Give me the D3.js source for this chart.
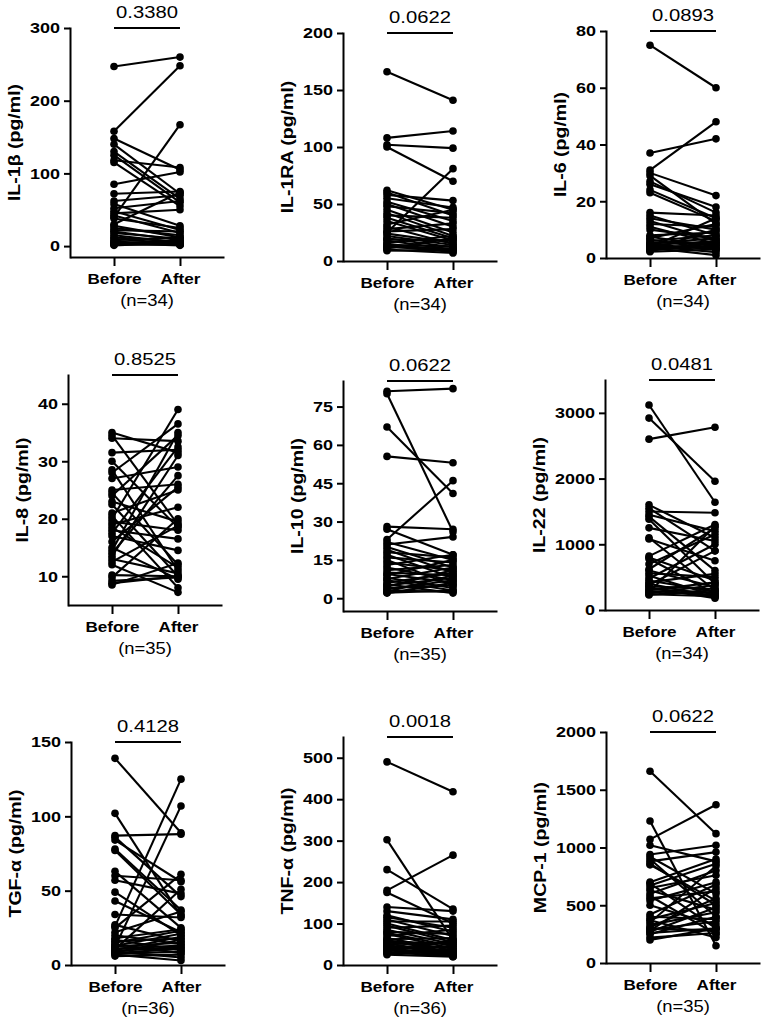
<!DOCTYPE html>
<html>
<head>
<meta charset="utf-8">
<script src="https://cdn.jsdelivr.net/npm/d3@7"></script>
<style>
  html, body { margin: 0; background: #fff; }
  svg text { font-family: "Liberation Sans", Arial, sans-serif; fill: #000; }
  .ax path, .ax line { stroke: #000; stroke-width: 2px; }
</style>
</head>
<body>
<svg id="fig" width="767" height="1023"></svg>
<script>
// ─── data ─────────────────────────────────────────────────────────────────────
const groups  = ['Before', 'After'];
const titles  = ['IL-1β (pg/ml)', 'IL-1RA (pg/ml)', 'IL-6 (pg/ml)',
                 'IL-8 (pg/ml)', 'IL-10 (pg/ml)', 'IL-22 (pg/ml)',
                 'TGF-α (pg/ml)', 'TNF-α (pg/ml)', 'MCP-1 (pg/ml)'];
const pValues = ['0.3380', '0.0622', '0.0893', '0.8525', '0.0622', '0.0481', '0.4128', '0.0018', '0.0622'];
const nCounts = [34, 34, 34, 35, 35, 34, 36, 36, 35];

const yDomains = [[-15, 300], [0, 200], [0, 80], [5, 45], [-5, 85], [0, 3500], [0, 150], [0, 550], [0, 2000]];
const yTicks = [
  [0, 100, 200, 300],
  [0, 50, 100, 150, 200],
  [0, 20, 40, 60, 80],
  [10, 20, 30, 40],
  [0, 15, 30, 45, 60, 75],
  [0, 1000, 2000, 3000],
  [0, 50, 100, 150],
  [0, 100, 200, 300, 400, 500],
  [0, 500, 1000, 1500, 2000]
];

const il1bBefore = [247,158,148,140,130,125,118,115,85,72,62,58,52,48,45,42,40,38,30,28,25,22,20,18,15,12,10,8,6,5,4,3,2,1];
const il1bAfter  = [260,248,105,72,65,60,108,55,102,75,70,28,62,22,50,18,167,25,74,12,15,20,8,10,5,6,3,12,4,2,1,8,2,5];

const il1raBefore = [166,108,102,100,62,60,58,55,52,50,48,45,42,40,38,35,32,30,28,26,25,24,22,20,19,18,16,15,14,13,12,11,10,9];
const il1raAfter  = [141,114,99,70,45,40,53,47,35,30,42,25,22,38,20,18,45,15,33,28,81,16,14,12,18,10,22,9,13,8,11,20,7,10];

const il6Before = [75,37,31,30,29,27,26,24,23,16,15,14,13,12,11,10,8,7.5,7,6.5,6,5.5,5,4.8,4.5,4.2,4,3.8,3.5,3.2,3,2.8,2.5,2.2];
const il6After  = [60,42,48,22,12,16,18,14,13,15,8,10,6,11,5,7,9,4,12,3,8,5,7,3,6,2,4,14,1,5,10,4,6,3];

const il8Before = [35,34.5,34,31.5,30,28.5,28,27,25,24.5,24,23,22.5,21,20.5,20,19.5,19,18.5,18,17.5,17,16,15,14.5,14,13.5,13,12.5,12,10.2,9.8,9.2,8.8,8.5];
const il8After  = [31.5,19,33.5,32,18.5,11,36.5,29,26,12,34.5,19.5,10,25,8,39,18,22,11.5,16.5,32.5,14.5,25.5,9.5,35,27.5,31,10.5,18.8,7.2,10,20,9.8,10,12.3];

const il10Before = [81,80,67,55.5,28,27,23,22,21,20,19,18,17,16,15,14,13,12,11,10,9.5,9,8,7.5,7,6,5.5,5,4.5,4,3.5,3,2.5,2.2,2];
const il10After  = [82,26,41,53,27,17,46,15,24,12,10,16,8,14,5,11,17,7,13,9,6,15,4,12,3,10,2,8,11,5,7,2.5,9,3,6];

const il22Before = [3120,2920,2600,1600,1550,1500,1450,1420,1380,1250,1100,1080,820,800,780,700,620,600,560,520,480,450,420,400,380,360,340,320,300,290,270,250,240,230];
const il22After  = [1640,1960,2780,1100,900,1480,1200,600,400,1050,300,750,1300,450,250,1150,1250,350,500,220,1000,280,550,200,900,320,180,260,420,230,1280,380,210,300];

const tgfBefore = [139,102,87,86,84,78,77,63,60,57,49,43,34,27,26,25,22,20,18,17,16,15,14,13,12.5,12,11,10.5,10,9.5,9,8.5,8,7.5,7,6];
const tgfAfter  = [89,33,88,46,56,37,34,25,57,48,20,22,32,16,125,61,36,14,24,10,18,23,8,21,15,107,13,51,19,12,5,17,11,9,3,7];

const tnfBefore = [490,302,230,180,175,140,130,120,115,110,105,100,95,90,85,80,78,75,70,65,62,60,58,55,52,50,48,45,42,40,38,35,32,30,28,25];
const tnfAfter  = [418,60,135,265,100,130,110,80,90,70,105,60,55,95,50,75,45,40,85,35,65,30,50,40,28,55,25,35,20,45,30,25,60,22,32,20];

const mcpBefore = [1660,1230,1070,1020,940,920,900,880,860,850,700,690,670,650,630,600,580,560,540,500,420,400,380,370,350,330,310,300,290,280,270,260,250,220,200];
const mcpAfter  = [1120,150,1370,880,1020,600,400,960,500,540,900,300,860,760,460,800,250,620,700,330,680,380,520,220,840,440,560,280,360,650,480,300,400,260,300];

const befores = [il1bBefore, il1raBefore, il6Before, il8Before, il10Before, il22Before, tgfBefore, tnfBefore, mcpBefore];
const afters  = [il1bAfter,  il1raAfter,  il6After,  il8After,  il10After,  il22After,  tgfAfter,  tnfAfter,  mcpAfter];

// ─── layout (pixel positions of each panel's axes) ────────────────────────────
const axisX   = [70, 343, 606, 68, 343, 605, 71, 343, 606];
const axisTop = [28, 33, 31, 375, 381, 380, 742, 737, 732];
const axisBot = [257, 261, 258, 605, 611, 610, 965, 965, 963];
const xLen    = 154;
const FONT    = '"Liberation Sans", Arial, sans-serif';

const svg = d3.select('#fig');

// the figure's lettering is wider than Arial, so text gets a horizontal stretch
function styleText(sel, size, bold) {
  sel.style('font-family', FONT).style('font-size', size + 'px')
     .style('font-weight', bold ? 'bold' : 'normal').style('fill', '#000');
}

function addLabel(g, x, y, str, size, bold, sx, rot) {
  const t = g.append('g').attr('transform', `translate(${x},${y})${rot ? ' rotate(-90)' : ''}`)
    .append('text').attr('transform', `scale(${sx},1)`)
    .attr('text-anchor', 'middle').text(str);
  styleText(t, size, bold);
  return t;
}

function drawPanel(i) {
  const x0 = axisX[i], top = axisTop[i], bot = axisBot[i];
  const y = d3.scaleLinear().domain(yDomains[i]).range([bot, top]);
  const x = d3.scalePoint().domain(groups).range([x0, x0 + xLen]).padding(0.667);
  const g = svg.append('g');
  const pairs = d3.zip(befores[i], afters[i]);

  // paired lines, then dots on top
  g.selectAll('.pr').data(pairs).join('line').attr('class', 'pr')
    .attr('x1', x('Before')).attr('x2', x('After'))
    .attr('y1', d => y(d[0])).attr('y2', d => y(d[1]))
    .attr('stroke', '#000').attr('stroke-width', 2.1);

  const pts = pairs.flatMap(d => [[x('Before'), d[0]], [x('After'), d[1]]]);
  g.selectAll('.dt').data(pts).join('circle').attr('class', 'dt')
    .attr('cx', d => d[0]).attr('cy', d => y(d[1])).attr('r', 3.8).attr('fill', '#000');

  // axes
  const tickSx = 1.2;
  const ya = g.append('g').attr('class', 'ax').attr('transform', `translate(${x0},0)`)
    .call(d3.axisLeft(y).tickValues(yTicks[i]).tickFormat(d3.format('d'))
      .tickSize(6).tickSizeOuter(0).tickPadding(4));
  ya.select('.domain').attr('stroke-linecap', 'square');
  ya.selectAll('.tick text').attr('x', -10 / tickSx).attr('transform', `scale(${tickSx},1)`);
  styleText(ya.selectAll('text'), 15, true);

  const xa = g.append('g').attr('class', 'ax').attr('transform', `translate(0,${bot})`)
    .call(d3.axisBottom(x).tickSize(9).tickSizeOuter(0).tickPadding(7));
  xa.selectAll('.tick text').attr('transform', 'scale(1.14,1)');
  styleText(xa.selectAll('text'), 15, true);

  // axis title, placed left of the widest tick label
  let maxW = 0;
  ya.selectAll('.tick text').each(function() { maxW = Math.max(maxW, this.getBBox().width * tickSx); });
  addLabel(g, x0 - 10 - maxW - 16, (top + bot) / 2, titles[i], 17, true, 1.15, true)
    .attr('dy', '0.35em');

  // significance bracket and p-value
  const mid = (x('Before') + x('After')) / 2;
  g.append('line').attr('x1', x('Before')).attr('x2', x('After'))
    .attr('y1', top).attr('y2', top).attr('stroke', '#000').attr('stroke-width', 2);
  addLabel(g, mid, top - 10, pValues[i], 17, false, 1.19, false);
  addLabel(g, mid, bot + 49, `(n=${nCounts[i]})`, 16, false, 1.15, false);
}

d3.range(titles.length).forEach(drawPanel);
</script>
</body>
</html>
